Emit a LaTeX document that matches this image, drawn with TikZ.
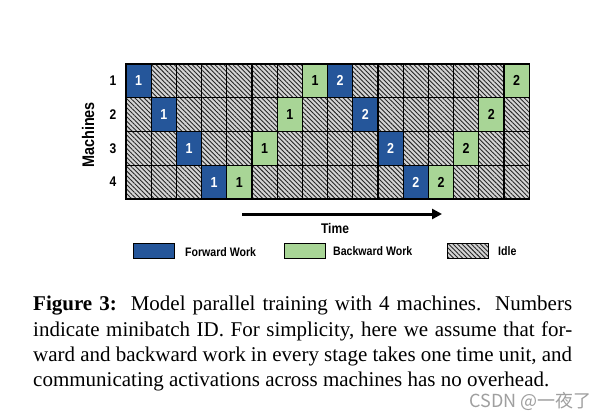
\documentclass[tikz,border=0pt]{standalone}
\usepackage{fontspec}
\setmainfont{Liberation Serif}
\newfontfamily\condfont[FakeStretch=0.86]{Liberation Sans}
\newfontfamily\cjkfont{Noto Sans CJK SC}
\usetikzlibrary{patterns.meta,arrows.meta}
\definecolor{fwdblue}{HTML}{25569A}
\definecolor{bwdgreen}{HTML}{A8D596}
\definecolor{idlegray}{HTML}{D4D4D4}
\begin{document}
\begin{tikzpicture}[x=1pt,y=-1pt,
  cell/.style={draw=black, line width=1.2pt, minimum width=25.2pt, minimum height=33.75pt,
    inner sep=0pt, outer sep=0pt, anchor=north west,
    font=\condfont\bfseries\fontsize{14.5}{14.5}\selectfont},
  idle/.style={cell, preaction={fill=idlegray},
    preaction={pattern={Lines[angle=-45,distance=3.2pt,line width=0.9pt]}, pattern color=black!85}},
  fwd/.style={cell, fill=fwdblue, text=white},
  bwd/.style={cell, fill=bwdgreen, text=black},
  lbl/.style={font=\condfont\bfseries\fontsize{14}{14}\selectfont, inner sep=0pt},
  legbox/.style={draw=black, line width=0.8pt, minimum width=41pt, minimum height=15pt, inner sep=0pt, anchor=north west},
  legtext/.style={font=\condfont\bfseries\fontsize{12.3}{12.3}\selectfont, anchor=west, inner sep=0pt}
]
\useasboundingbox[fill=white] (0,0) rectangle (605,420);
% idle grid
\foreach \r in {1,...,4}{
  \foreach \c in {1,...,16}{
    \node[idle] (c-\r-\c) at ({126+(\c-1)*25.2},{64+(\r-1)*33.75}) {};
  }
}
% forward work
\foreach \r/\c/\m in {1/1/1,2/2/1,3/3/1,4/4/1,1/9/2,2/10/2,3/11/2,4/12/2}{
  \node[fwd] (f-\r-\c) at ({126+(\c-1)*25.2},{64+(\r-1)*33.75}) {\m};
}
% backward work
\foreach \r/\c/\m in {4/5/1,3/6/1,2/7/1,1/8/1,4/13/2,3/14/2,2/15/2,1/16/2}{
  \node[bwd] (b-\r-\c) at ({126+(\c-1)*25.2},{64+(\r-1)*33.75}) {\m};
}
% row labels
\foreach \r in {1,...,4}{
  \node[lbl] (m\r) at (113,{64+(\r-0.5)*33.75}) {\r};
}
\node[font=\condfont\bfseries\fontsize{16.8}{16.8}\selectfont, rotate=90, inner sep=0pt] (machines) at (88,135) {Machines};
% time arrow
\coordinate (t0) at (242,214);
\coordinate (t1) at (442,214);
\draw[line width=3pt, -{Triangle[length=10pt,width=10pt]}] (t0) -- (t1);
\node[font=\condfont\bfseries\fontsize{14}{14}\selectfont, inner sep=0pt] (time) at (335,228) {Time};
% legend
\node[legbox, fill=fwdblue] (lf) at (133,243) {};
\node[legtext] (lft) at (185,252) {Forward Work};
\node[legbox, fill=bwdgreen] (lb) at (284,242.5) {};
\node[legtext] (lbt) at (333,251) {Backward Work};
\node[legbox, preaction={fill=idlegray}, preaction={pattern={Lines[angle=-45,distance=3.2pt,line width=0.9pt]}, pattern color=black!85}] (li) at (447,243) {};
\node[legtext] (lit) at (498,251) {Idle};
% caption
\node[anchor=north west, inner sep=0pt, text width=539pt, align=justify,
  font=\fontsize{21}{25.4}\selectfont] (cap) at (33,296)
  {\textbf{Figure 3:}\ \ Model parallel training with 4 machines.\ \ Numbers\linebreak
   indicate minibatch ID. For simplicity, here we assume that for-\linebreak
   ward and backward work in every stage takes one time unit, and\linebreak
   communicating activations across machines has no overhead.};
\node[anchor=east, font=\cjkfont\fontsize{18}{18}\selectfont, text=gray!75, inner sep=0pt] (wm) at (592,401) {CSDN @一夜了};
\end{tikzpicture}
\end{document}
